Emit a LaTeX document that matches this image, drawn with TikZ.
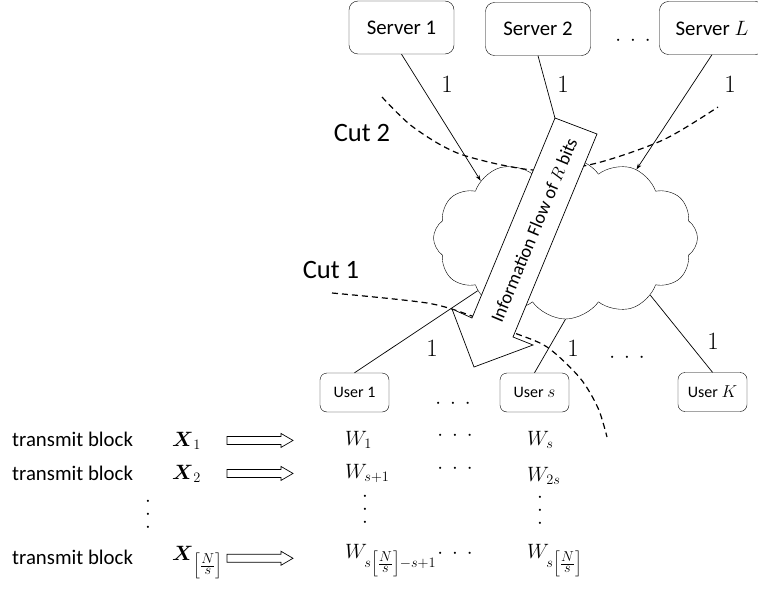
\documentclass[tikz,border=0pt]{standalone}
\usepackage{amsmath}
\usepackage{fontspec}
\setmainfont{Carlito}
\usetikzlibrary{shapes.symbols,arrows.meta}

\tikzset{
	server/.style={draw, rounded corners=9pt, minimum width=105pt, minimum height=53pt, font=\fontsize{20.8}{25}\selectfont},
	user/.style={draw, rounded corners=7pt, minimum width=69pt, minimum height=39pt, font=\fontsize{16}{19}\selectfont},
	link/.style={line width=0.7pt},
	cut/.style={line width=1.2pt, dash pattern=on 6pt off 4pt},
	rate/.style={font=\fontsize{27}{30}\selectfont, inner sep=0pt},
	cutlabel/.style={font=\fontsize{26.5}{30}\selectfont, inner sep=0pt},
	txt/.style={font=\fontsize{20.8}{25}\selectfont, inner sep=0pt, anchor=base west},
	hdots/.style={font=\fontsize{20.8}{25}\selectfont, inner sep=0pt, anchor=base},
	vdots/.style={font=\fontsize{20.8}{13}\selectfont, inner sep=0pt, align=center},
	hollow/.pic={\draw[line width=0.7pt] (0,-4) -- (54,-4) -- (54,-7) -- (66,0) -- (54,7) -- (54,4) -- (0,4) -- cycle;},
}
\newcommand{\hdotsrow}{$\cdot$\hspace{9pt}$\cdot$\hspace{9pt}$\cdot$}
\newcommand{\blocks}{\left[\frac{\scriptstyle N}{\scriptstyle s}\right]}

\begin{document}
\begin{tikzpicture}[x=1pt, y=-1pt]
	\useasboundingbox (0,0) rectangle (758,589);
	
	% servers and users
	\node[server] (s1) at (401.5,27.5) {Server 1};
	\node[server] (s2) at (538,29)     {Server 2};
	\node[server] (sL) at (712,28)     {Server $L$};
	\node[hdots] (sdots) at (633,45)   {\hdotsrow};
	
	\node[cloud, draw, cloud puffs=12, cloud puff arc=110, aspect=1.65,
	      minimum width=264pt, minimum height=162pt, inner sep=0pt] (cloud) at (565.5,238) {};
	
	\node[user] (u1) at (354.5,392.5) {User 1};
	\node[user] (us) at (534.5,392.5) {User $s$};
	\node[user] (uK) at (712.5,392)   {User $K$};
	\node[hdots] (udots1) at (453,408) {\hdotsrow};
	\node[hdots] (udots2) at (627,362) {\hdotsrow};
	
	% links
	\draw[link,-{Stealth[length=6pt,width=4pt]}] (s1.south) -- (cloud.146);
	\draw[link] (s2.south) -- (cloud.north);
	\draw[link,-{Stealth[length=6pt,width=4pt]}] (sL.south) -- (cloud.44);
	\draw[link] (u1.north) -- (cloud.211);
	\draw[link] (us.north) -- (cloud.south);
	\draw[link] (uK.north) -- (cloud.326);
	
	\node[rate] (r1) at (447,84)  {$1$};
	\node[rate] (r2) at (563,84)  {$1$};
	\node[rate] (rL) at (730,84)  {$1$};
	\node[rate] (q1) at (432,348) {$1$};
	\node[rate] (qs) at (573,348) {$1$};
	\node[rate] (qK) at (713,341) {$1$};
	
	% cuts
	\draw[cut] plot[smooth] coordinates {(382,97) (413,127) (460,154) (533,170) (593,164) (663,140) (718,107)};
	\draw[cut] plot[smooth] coordinates {(332,293) (427,303) (472,316) (512,332) (547,347) (580,378) (598,408) (607,437)};
	\node[cutlabel] (c2) at (362,133) {Cut 2};
	\node[cutlabel] (c1) at (331,270) {Cut 1};
	
	% information flow
	\draw[fill=white, line width=0.7pt] (555,118) -- (597,134) -- (513,337) -- (533,345)
	      -- (474,367) -- (452,309) -- (472,318) -- cycle;
	\node[rotate=67.3, font=\fontsize{18.5}{21}\selectfont] (flow) at (534,230) {Information Flow of $R$ bits};
	
	% transmission blocks
	\coordinate (from) at (227,0);
	\node[txt] (t1) at (12,446) {transmit block};
	\node[txt] (t2) at (12,480) {transmit block};
	\node[txt] (t3) at (12,564) {transmit block};
	\node[txt] (x1) at (172,446) {$\boldsymbol{X}_1$};
	\node[txt] (x2) at (172,479) {$\boldsymbol{X}_2$};
	\node[txt] (x3) at (172,560) {$\boldsymbol{X}_{\blocks}$};
	\node[vdots] (xv) at (148,515) {$\cdot$\\$\cdot$\\$\cdot$};
	\pic at (x1.east -| from) {hollow};
	\pic at (x2.east -| from) {hollow};
	\pic at ([yshift=4pt]x3.east -| from) {hollow};
	
	\node[txt] (w1) at (345,445) {$W_1$};
	\node[txt] (w2) at (345,478) {$W_{s+1}$};
	\node[txt] (w3) at (345,558) {$W_{s\blocks-s+1}$};
	\node[vdots] (wv) at (365,510) {$\cdot$\\$\cdot$\\$\cdot$};
	\node[hdots] (d1) at (455,440) {\hdotsrow};
	\node[hdots] (d2) at (455,473) {\hdotsrow};
	\node[hdots] (d3) at (455,558) {\hdotsrow};
	\node[txt] (ws1) at (527,445) {$W_s$};
	\node[txt] (ws2) at (527,481) {$W_{2s}$};
	\node[txt] (ws3) at (527,558) {$W_{s\blocks}$};
	\node[vdots] (wsv) at (540,511) {$\cdot$\\$\cdot$\\$\cdot$};
	
\end{tikzpicture}
\end{document}
